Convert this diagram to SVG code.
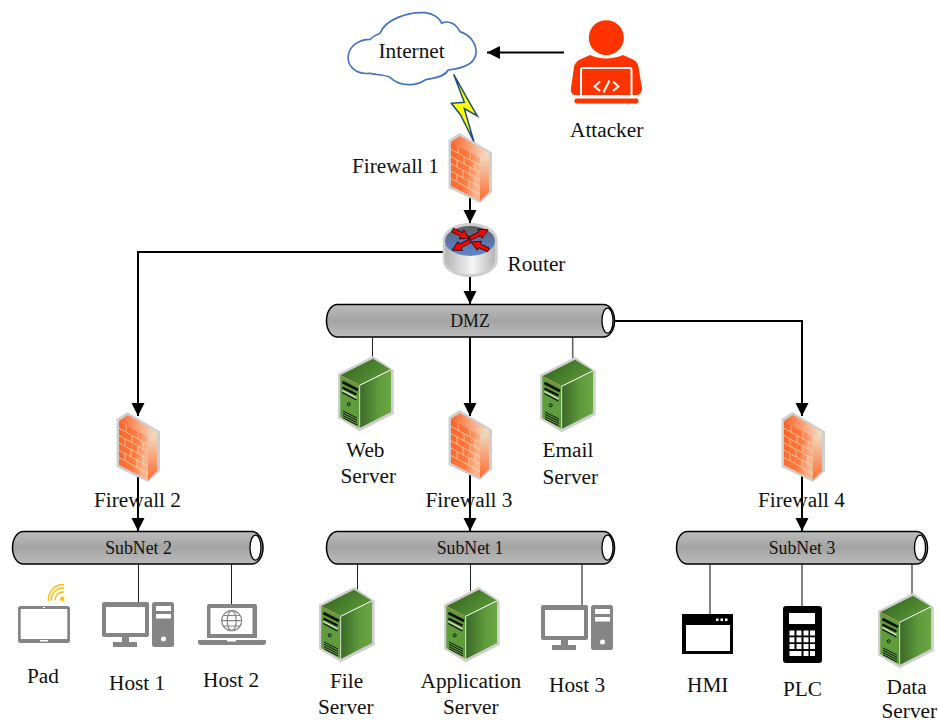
<svg xmlns="http://www.w3.org/2000/svg" width="938" height="720" viewBox="0 0 938 720">
<style>
text{font-family:"Liberation Serif","Times New Roman",serif;font-size:21.3px;fill:#111}
.pl{font-size:17.8px;text-anchor:middle}
.pipe{fill:url(#pipeG);stroke:#000;stroke-width:1.5}
.cap{fill:#fff;stroke:#000;stroke-width:1.3}
.th{fill:none;stroke:#000;stroke-width:2}
.arr{marker-end:url(#ah)}
.tn{fill:none;stroke:#222;stroke-width:1}
.tg{fill:none;stroke:#666;stroke-width:1.6}
.gr{fill:#858585}
.wh{fill:#fff}
.brick{stroke:#f8d6b4;stroke-width:.8;fill:none}
.ra{fill:#f00;stroke:#000;stroke-width:.7}
</style>
<defs>
<marker id="ah" markerUnits="userSpaceOnUse" markerWidth="14" markerHeight="14" refX="13" refY="6.500" orient="auto"><polygon points="0,0 13,6.500 0,13" fill="#000"/></marker>
<linearGradient id="pipeG" x1="0" y1="0" x2="0" y2="1"><stop offset="0" stop-color="#bcbcbc"/><stop offset=".5" stop-color="#a3a3a3"/><stop offset="1" stop-color="#bcbcbc"/></linearGradient>
<linearGradient id="fwF" x1="0" y1="0" x2="1" y2=".3"><stop offset="0" stop-color="#ff6225"/><stop offset=".65" stop-color="#ff7a40"/><stop offset="1" stop-color="#f6b48e"/></linearGradient>
<linearGradient id="fwS" x1="0" y1="0" x2="0" y2="1"><stop offset="0" stop-color="#efe0c8"/><stop offset="1" stop-color="#ff6c30"/></linearGradient>
<linearGradient id="fwT" x1="0" y1="0" x2="1" y2="0"><stop offset="0" stop-color="#ff6225"/><stop offset="1" stop-color="#f1e2cc"/></linearGradient>
<linearGradient id="svT" x1="0" y1="0" x2="1" y2=".6"><stop offset="0" stop-color="#2f5d1c"/><stop offset="1" stop-color="#5c9a38"/></linearGradient>
<linearGradient id="svS" x1="0" y1="0" x2="1" y2="0"><stop offset="0" stop-color="#3a6826"/><stop offset=".6" stop-color="#5f9a3c"/><stop offset="1" stop-color="#6ba644"/></linearGradient>
<linearGradient id="rtB" x1="0" y1="0" x2="1" y2="0"><stop offset="0" stop-color="#b5b5b5"/><stop offset=".55" stop-color="#f6f6f6"/><stop offset="1" stop-color="#b5b5b5"/></linearGradient>
<linearGradient id="rtT" x1="0" y1="0" x2="0" y2="1"><stop offset="0" stop-color="#5d5d5d"/><stop offset=".5" stop-color="#5a76a8"/><stop offset="1" stop-color="#6486c8"/></linearGradient>
<g id="fw">
<polygon points="11.500,0 44,19.500 44,59 32,70 .5,55 .5,7" fill="#cfcfcf"/>
<polygon points="3,9 12,3 41,20 32,25" fill="url(#fwT)"/>
<polygon points="32,25 41,20 41,59 32,68" fill="url(#fwS)"/>
<polygon points="3,9 32,25 32,68 3,53" fill="url(#fwF)"/>
<path class="brick" d="M3,16.300L32,32.300M3,23.600L32,39.600M3,30.900L32,46.900M3,38.200L32,54.200M3,45.500L32,61.500M10,13L10,20.200M22,19.500L22,26.700M16,24L16,31M27,30L27,37M9,26.800L9,34M22,34L22,41M15,37.500L15,45M27,44L27,51M9,41L9,48.500M21,47.500L21,55"/>
</g>
<g id="sv">
<polygon points="35,0 55.700,14 55.700,58 21.700,75.300 0,62 0,17.700" fill="#cfcfcf"/>
<polygon points="2.300,19.300 35,2.700 53,13.700 21.700,29.300" fill="url(#svT)"/>
<polygon points="21.700,29.300 53,13.700 53,56 21.700,72" fill="url(#svS)"/>
<polygon points="2.300,19.300 21.700,29.300 21.700,72 2.300,61" fill="#5f9c3b"/>
<path d="M2.300,19.300L21.700,29.300" stroke="#b08a55" stroke-width="1" fill="none"/>
<path d="M21.700,29.300L53,13.700" stroke="#fff" stroke-width="1" fill="none"/>
<path d="M21.700,29.300V72" stroke="#d5dccb" stroke-width="1" fill="none"/>
<path d="M4.400,26L20,34" stroke="#111" stroke-width="2.600" fill="none"/>
<path d="M4.400,31.500L18.500,38.500" stroke="#111" stroke-width="2.400" fill="none"/>
<path d="M4.400,34.500L18.500,42" stroke="#e8ecdc" stroke-width="1.200" fill="none"/>
<path d="M4.400,36.500L18.500,44" stroke="#111" stroke-width="1.200" fill="none"/>
<circle cx="10.700" cy="48.300" r="1.500" fill="#5f9c3b" stroke="#111" stroke-width="1"/>
<path d="M5,55L19,62M5,57.300L19,64.300M5,59.600L19,66.600M5,61.900L19,68.900" stroke="#111" stroke-width="1" fill="none"/>
</g>
<g id="pc">
<path class="gr" fill-rule="evenodd" d="M104,602H147a2,2 0 0 1 2,2V635a2,2 0 0 1-2,2H129V642H137V647H113V642H122V637H104a2,2 0 0 1-2-2V604a2,2 0 0 1 2-2ZM106,607V633H145V607Z"/>
<rect class="gr" x="152" y="602" width="22" height="45" rx="2.500"/>
<rect class="wh" x="156" y="606" width="15" height="5"/>
<rect class="wh" x="156" y="614" width="15" height="4.500"/>
<circle class="wh" cx="163.500" cy="639" r="2.500"/>
</g>
</defs>

<g id="connectors">
<path class="th arr" d="M564,52.500H487"/>
<path class="th arr" d="M470,196V223"/>
<path class="th arr" d="M470,275V304"/>
<path class="th arr" d="M443,252H138V416"/>
<path class="th arr" d="M470,337V416"/>
<path class="th arr" d="M470,470V531"/>
<path class="th arr" d="M615,321H802V416"/>
<path class="th arr" d="M802,470V531"/>
<path class="th arr" d="M138,470V531"/>
<path class="tn" d="M372.500,337V357"/>
<path class="tg" d="M572.700,337V358"/>
<path class="tn" d="M138.500,564V603"/>
<path class="tn" d="M231.500,564V604"/>
<path class="tn" d="M357.500,564V590"/>
<path class="tn" d="M470.500,564V591"/>
<path class="tg" d="M582,564V605"/>
<path class="tg" d="M710,564V615"/>
<path class="tg" d="M802,564V606"/>
<path class="tg" d="M912,564V596"/>
</g>

<g id="internet">
<path transform="translate(330 0) scale(.3333)" fill="#fff" stroke="#4472c4" stroke-width="5" d="M120,118C135,105 145,102 150,100C165,60 230,35 285,38C310,40 330,55 335,70C350,62 375,65 390,95C420,105 440,130 438,160C435,190 400,205 355,210C340,235 300,235 285,240C265,255 215,265 180,232C160,222 130,225 120,220C70,225 50,190 55,165C60,135 90,118 120,118Z"/>
<text x="378.500" y="58">Internet</text>
</g>
<g id="attacker">
<circle cx="606.300" cy="37.700" r="17.500" fill="#ff3300"/>
<path fill="#ff3300" d="M590,55C595,57 600,58.500 606,58.500C612,58.500 618,57 623,55L634,60C637,62 638,64 638.500,67L642,88C642,92 640,95 637,95H575C572,95 570.500,92 571,88L574,67C574.500,64 576,62 579,60Z"/>
<rect x="574.500" y="98.500" width="64" height="5" rx="2" fill="#ff3300"/>
<path fill="none" stroke="#fff" stroke-width="2" d="M581,97V70Q581,68 583,68H629.500Q631.500,68 631.500,70V97"/>
<path fill="none" stroke="#fff" stroke-width="2" d="M600,81.500L594.500,86.500L600,91M613,81.500L618.500,86.500L613,91M603.500,92.500L609.500,80.500"/>
<text x="570" y="137">Attacker</text>
</g>
<polygon id="lightning" transform="translate(330 0) scale(.3333)" points="371,223 420,310 442,348 403,326 432,426 392,345 364,310 403,307" fill="#ffff00" stroke="#1f4e79" stroke-width="4.500"/>

<g id="firewall1"><use href="#fw" x="448" y="133"/><text x="352" y="173">Firewall 1</text></g>
<g id="router">
<path fill="#cfcfcf" d="M442.700,241C442.700,230 455,223 470,223C485,223 497.700,230 497.700,241V260C497.700,270 485,277 470,277C455,277 442.700,270 442.700,260Z"/>
<path fill="url(#rtB)" d="M445,241H495V259C495,268 484,274 470,274C456,274 445,268 445,259Z"/>
<ellipse cx="470" cy="241" rx="25" ry="15" fill="url(#rtT)"/>
<g class="ra">
<polygon transform="translate(452.500 230) rotate(26)" points="0,-2 10,-2 10,-5 19,0 10,5 10,2 0,2"/>
<polygon transform="translate(470 238.500) rotate(-26)" points="0,-2 11,-2 11,-5 20,0 11,5 11,2 0,2"/>
<polygon transform="translate(470 241) rotate(153)" points="0,-2 11,-2 11,-5 20,0 11,5 11,2 0,2"/>
<polygon transform="translate(488.500 250) rotate(205)" points="0,-2 10,-2 10,-5 19,0 10,5 10,2 0,2"/>
</g>
<text x="507.500" y="271">Router</text>
</g>
<g id="dmz"><rect class="pipe" x="326.500" y="304.500" width="288" height="32.500" rx="11" ry="16"/><ellipse class="cap" cx="607.500" cy="320.700" rx="5.500" ry="12.500"/><text class="pl" x="470" y="327">DMZ</text></g>
<g id="webserver"><use href="#sv" x="338" y="356"/><text x="346" y="457">Web</text><text x="340.500" y="483">Server</text></g>
<g id="emailserver"><use href="#sv" x="540" y="357"/><text x="542.500" y="457">Email</text><text x="542.500" y="484">Server</text></g>
<g id="firewall2"><use href="#fw" x="116" y="412"/><text x="94" y="507">Firewall 2</text></g>
<g id="firewall3"><use href="#fw" x="448" y="410"/><text x="425.500" y="507">Firewall 3</text></g>
<g id="firewall4"><use href="#fw" x="781" y="412"/><text x="758" y="507">Firewall 4</text></g>
<g id="subnet2"><rect class="pipe" x="12.500" y="531.500" width="250.500" height="32.500" rx="11" ry="16"/><ellipse class="cap" cx="255.500" cy="547.700" rx="5.500" ry="12.500"/><text class="pl" x="138.500" y="554">SubNet 2</text></g>
<g id="subnet1"><rect class="pipe" x="326.500" y="531.500" width="288" height="32.500" rx="11" ry="16"/><ellipse class="cap" cx="607.500" cy="547.700" rx="5.500" ry="12.500"/><text class="pl" x="470" y="554">SubNet 1</text></g>
<g id="subnet3"><rect class="pipe" x="676.500" y="531.500" width="251" height="32.500" rx="11" ry="16"/><ellipse class="cap" cx="920" cy="547.700" rx="5.500" ry="12.500"/><text class="pl" x="802" y="554">SubNet 3</text></g>

<g id="pad">
<rect class="gr" x="18" y="606" width="52" height="37" rx="2.500"/>
<rect class="wh" x="20.700" y="609" width="46.600" height="30"/>
<rect class="wh" x="43" y="607" width="2" height="1"/>
<rect class="wh" x="40" y="640" width="8" height="1.500"/>
<circle cx="62.300" cy="598.700" r="2.300" fill="#ffc000"/>
<path fill="none" stroke="#ffc000" stroke-width="1.500" d="M55,600A8,8 0 0 1 64,592M51.500,600.500A11.500,11.500 0 0 1 64,588M48.500,601A15,15 0 0 1 64,584.500"/>
<text x="27" y="683">Pad</text>
</g>
<g id="host1"><use href="#pc"/><text x="109" y="690">Host 1</text></g>
<g id="host2">
<path class="gr" fill-rule="evenodd" d="M209,604H255a2,2 0 0 1 2,2V638H207V606a2,2 0 0 1 2-2ZM210.500,608V634H252.500V608Z"/>
<path class="gr" d="M198,640H266V642Q266,645 263,645H201Q198,645 198,642Z"/>
<rect class="wh" x="227" y="640" width="9" height="1.500"/>
<g fill="none" stroke="#858585" stroke-width="1.200"><circle cx="231.700" cy="620.700" r="10"/><ellipse cx="231.700" cy="620.700" rx="4.500" ry="10"/><path d="M221.700,620.700H241.700M223,615.500H240.400M223,626H240.400"/></g>
<text x="203" y="687">Host 2</text>
</g>
<g id="fileserver"><use href="#sv" x="319" y="587"/><text x="330" y="688">File</text><text x="318" y="714">Server</text></g>
<g id="appserver"><use href="#sv" x="444" y="587"/><text x="420.500" y="688">Application</text><text x="443" y="714">Server</text></g>
<g id="host3"><use href="#pc" x="439" y="3"/><text x="549" y="692">Host 3</text></g>
<g id="hmi">
<rect x="682" y="614" width="51" height="40" fill="#000"/>
<rect class="wh" x="686" y="625" width="44" height="26"/>
<rect class="wh" x="716" y="618.500" width="2.500" height="2.500"/><rect class="wh" x="720.500" y="618.500" width="2.500" height="2.500"/><rect class="wh" x="725" y="618.500" width="2.500" height="2.500"/>
<text x="687" y="692">HMI</text>
</g>
<g id="plc">
<rect x="783" y="606" width="39" height="57" rx="3" fill="#000"/>
<rect class="wh" x="789" y="613" width="26" height="11"/>
<g class="wh">
<rect x="789.500" y="630.500" width="5" height="5"/><rect x="796.500" y="630.500" width="5" height="5"/><rect x="803.500" y="630.500" width="5" height="5"/><rect x="810" y="630.500" width="5" height="5"/>
<rect x="789.500" y="637.300" width="5" height="5"/><rect x="796.500" y="637.300" width="5" height="5"/><rect x="803.500" y="637.300" width="5" height="5"/><rect x="810" y="637.300" width="5" height="5"/>
<rect x="789.500" y="644" width="5" height="5"/><rect x="796.500" y="644" width="5" height="5"/><rect x="803.500" y="644" width="5" height="5"/><rect x="810" y="644" width="5" height="5"/>
<rect x="789.500" y="651" width="12" height="5"/><rect x="803.500" y="651" width="5" height="5"/><rect x="810" y="651" width="5" height="5"/>
</g>
<text x="783" y="696">PLC</text>
</g>
<g id="dataserver"><use href="#sv" x="878" y="593"/><text x="886.500" y="694">Data</text><text x="881.500" y="718">Server</text></g>
</svg>
